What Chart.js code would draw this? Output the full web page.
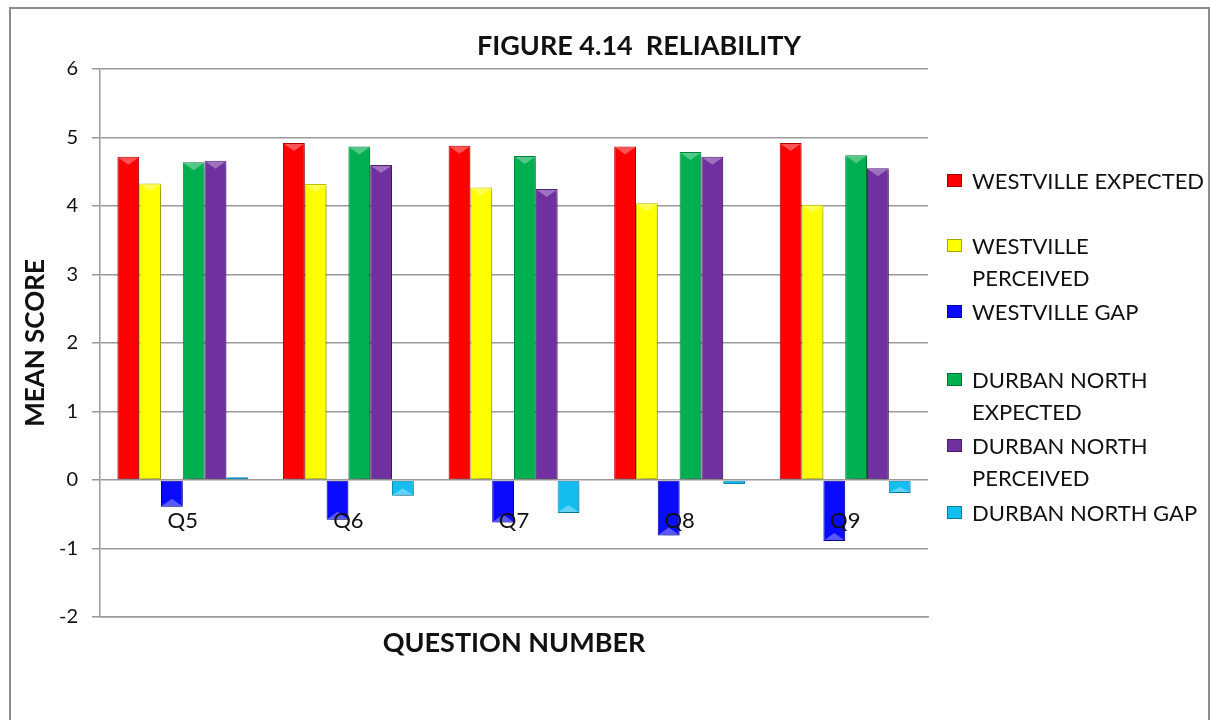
<!DOCTYPE html>
<html>
<head>
<meta charset="utf-8">
<script src="https://cdn.jsdelivr.net/npm/chart.js@4/dist/chart.umd.min.js"></script>
<style>
  body { margin: 0; background: #fff; }
  #wrap { position: relative; width: 1210px; height: 720px; overflow: hidden; font-family: Lato, sans-serif; }
  #frame { position: absolute; left: 9px; top: 7px; width: 1197px; height: 760px; border: 2px solid #8c8c8c; }
  #c { position: absolute; left: 0; top: 0; }
  #legend { position: absolute; left: 0; top: 0; width: 1210px; height: 720px; pointer-events: none; }
  .item { position: absolute; left: 947px; font-size: 22px; line-height: 32px; color: #111; white-space: nowrap; }
  .item i { position: absolute; left: 0; top: 9px; width: 15px; height: 13px; box-sizing: border-box; border: 1px solid rgba(0,0,0,0.35); }
  .item span { display: block; margin-left: 25px; }
</style>
</head>
<body>
<div id="wrap">
  <div id="frame"></div>
  <canvas id="c" width="1210" height="720"></canvas>
  <div id="legend"></div>
</div>
<script>
// mean scores per question
const questions = ['Q5', 'Q6', 'Q7', 'Q8', 'Q9'];
const westExpected = [4.72, 4.92, 4.88, 4.87, 4.92];
const westPerceived = [4.33, 4.32, 4.27, 4.04, 4.02];
const westGap = [-0.39, -0.58, -0.62, -0.81, -0.89];
const durbanExpected = [4.64, 4.87, 4.73, 4.79, 4.74];
const durbanPerceived = [4.66, 4.60, 4.25, 4.72, 4.55];
const durbanGap = [0.04, -0.23, -0.48, -0.06, -0.19];
const yTicks = [-2, -1, 0, 1, 2, 3, 4, 5, 6];

const seriesNames = [
    ['WESTVILLE EXPECTED'],
    ['WESTVILLE', 'PERCEIVED'],
    ['WESTVILLE GAP'],
    ['DURBAN NORTH', 'EXPECTED'],
    ['DURBAN NORTH', 'PERCEIVED'],
    ['DURBAN NORTH GAP']
];
const seriesData = [westExpected, westPerceived, westGap, durbanExpected, durbanPerceived, durbanGap];
const fills = ['#ff0000', '#ffff00', '#0a0aff', '#00b050', '#7030a0', '#14bdf0'];
const edges = ['#c00000', '#c8c800', '#0000b0', '#008a3c', '#52207a', '#0a8fbc'];
const legendTops = [165, 230, 296, 364, 430, 497];

const GREY = '#9a9a9a';

// soft drop shadow under the bars
const barShadow = {
    id: 'barShadow',
    beforeDatasetsDraw(chart) {
        const ctx = chart.ctx;
        ctx.save();
        ctx.shadowColor = 'rgba(0,0,0,0.28)';
        ctx.shadowBlur = 6;
        ctx.shadowOffsetX = 3;
        ctx.shadowOffsetY = 3;
    },
    afterDatasetsDraw(chart) {
        chart.ctx.restore();
    }
};

// lighter bevel cap on the outer end of every bar, then the category names
const bevelAndLabels = {
    id: 'bevelAndLabels',
    afterDatasetsDraw(chart) {
        const ctx = chart.ctx;
        chart.data.datasets.forEach((ds, di) => {
            chart.getDatasetMeta(di).data.forEach(bar => {
                const w = bar.width;
                const h = Math.abs(bar.base - bar.y);
                if (h < 4) return;
                const dir = bar.y < bar.base ? 1 : -1;
                const d = Math.min(8, h / 2);
                ctx.save();
                ctx.fillStyle = 'rgba(255,255,255,0.32)';
                ctx.beginPath();
                ctx.moveTo(bar.x - w / 2 + 1, bar.y + dir);
                ctx.lineTo(bar.x + w / 2 - 1, bar.y + dir);
                ctx.lineTo(bar.x, bar.y + dir * d);
                ctx.closePath();
                ctx.fill();
                ctx.restore();
            });
        });
        const xs = chart.scales.x, ys = chart.scales.y;
        const y0 = ys.getPixelForValue(0);
        ctx.save();
        ctx.font = '22px Lato, sans-serif';
        ctx.fillStyle = '#111';
        ctx.textAlign = 'center';
        ctx.textBaseline = 'middle';
        questions.forEach((q, i) => {
            ctx.fillText(q, xs.getPixelForValue(i), y0 + 41);
        });
        ctx.restore();
    }
};

const chartTitle = {
    id: 'chartTitle',
    afterDraw(chart) {
        const ctx = chart.ctx;
        ctx.save();
        ctx.font = 'bold 27px Lato, sans-serif';
        ctx.fillStyle = '#111';
        ctx.textAlign = 'center';
        ctx.textBaseline = 'middle';
        ctx.fillText('FIGURE 4.14  RELIABILITY', 639, 46);
        ctx.restore();
    }
};

const chart = new Chart(document.getElementById('c'), {
    type: 'bar',
    data: {
        labels: questions,
        datasets: seriesData.map((d, i) => ({
            label: seriesNames[i].join(' '),
            data: d,
            backgroundColor: fills[i],
            borderColor: edges[i],
            borderWidth: 1,
            borderSkipped: false,
            barPercentage: 1,
            categoryPercentage: 0.79
        }))
    },
    options: {
        responsive: false,
        animation: false,
        layout: { padding: { top: 69, right: 282, left: 0, bottom: 0 } },
        plugins: {
            legend: { display: false },
            tooltip: { enabled: false }
        },
        scales: {
            x: {
                ticks: { display: false },
                grid: { display: false },
                border: { display: true, color: GREY, width: 1.5 },
                title: {
                    display: true,
                    text: 'QUESTION NUMBER',
                    color: '#111',
                    font: { family: 'Lato', size: 27, weight: 'bold' },
                    padding: { top: 0, bottom: 61 }
                },
                afterFit(s) { s.height = 103; }
            },
            y: {
                min: -2,
                max: 6,
                afterBuildTicks(s) { s.ticks = yTicks.map(v => ({ value: v })); },
                ticks: {
                    color: '#111',
                    padding: 14,
                    font: { family: 'Lato', size: 20 }
                },
                grid: { color: GREY, lineWidth: 1.5, tickLength: 8 },
                border: { display: true, color: GREY, width: 1.5 },
                title: {
                    display: true,
                    text: 'MEAN SCORE',
                    color: '#111',
                    font: { family: 'Lato', size: 26, weight: 'bold' },
                    padding: { top: 20, bottom: 0 }
                },
                afterFit(s) { s.width = 100; }
            }
        }
    },
    plugins: [barShadow, bevelAndLabels, chartTitle]
});

// legend built from the chart's own datasets
const legend = document.getElementById('legend');
chart.data.datasets.forEach((ds, i) => {
    const el = document.createElement('div');
    el.className = 'item';
    el.style.top = legendTops[i] + 'px';
    el.innerHTML = '<i style="background:' + ds.backgroundColor + '"></i>' +
        seriesNames[i].map(t => '<span>' + t + '</span>').join('');
    legend.appendChild(el);
});
</script>
</body>
</html>
